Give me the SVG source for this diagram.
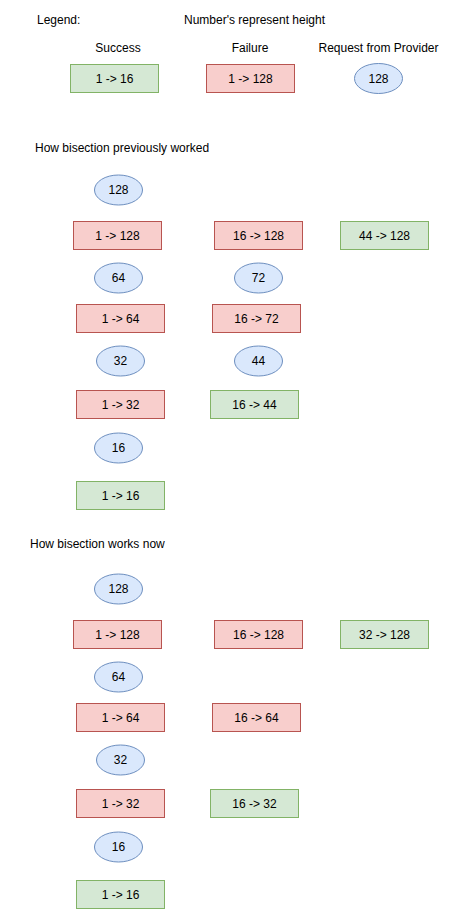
<svg xmlns="http://www.w3.org/2000/svg" width="454" height="919" viewBox="0 0 454 919">
<style>
text{font-family:"Liberation Sans",Arial,Helvetica,sans-serif;font-size:12px;fill:#000}
.c{text-anchor:middle}
.ok{fill:#d5e8d4;stroke:#82b366;stroke-width:1}
.ko{fill:#f8cecc;stroke:#b85450;stroke-width:1}
.rq{fill:#dae8fc;stroke:#6c8ebf;stroke-width:1}
</style>
<rect width="454" height="919" fill="#fff"/>
<g id="labels">
<text x="37" y="24">Legend:</text>
<text x="254.5" y="24" class="c">Number's represent height</text>
<text x="118" y="52" class="c">Success</text>
<text x="250" y="52" class="c">Failure</text>
<text x="378.5" y="52" class="c">Request from Provider</text>
<text x="35" y="152">How bisection previously worked</text>
<text x="30" y="548">How bisection works now</text>
</g>
<g id="connectors"></g>
<!-- legend -->
<g id="legend-success"><rect class="ok" x="70.5" y="64.5" width="88" height="28"/><text x="114.5" y="82.5" class="c">1 -&gt; 16</text></g>
<g id="legend-failure"><rect class="ko" x="206.5" y="64.5" width="88" height="28"/><text x="250.5" y="82.5" class="c">1 -&gt; 128</text></g>
<g id="legend-request"><ellipse class="rq" cx="378.5" cy="78.5" rx="24" ry="15"/><text x="378.5" y="82.5" class="c">128</text></g>
<!-- previously -->
<g id="p-req128"><ellipse class="rq" cx="118.5" cy="190" rx="24" ry="15"/><text x="118.5" y="194" class="c">128</text></g>
<g id="p-f1-128"><rect class="ko" x="73.5" y="221.5" width="88" height="28"/><text x="117.5" y="239.5" class="c">1 -&gt; 128</text></g>
<g id="p-f16-128"><rect class="ko" x="214.5" y="221.5" width="88" height="28"/><text x="258.5" y="239.5" class="c">16 -&gt; 128</text></g>
<g id="p-s44-128"><rect class="ok" x="340.5" y="221.5" width="88" height="28"/><text x="384.5" y="239.5" class="c">44 -&gt; 128</text></g>
<g id="p-req64"><ellipse class="rq" cx="118.5" cy="278" rx="24" ry="15"/><text x="118.5" y="282" class="c">64</text></g>
<g id="p-req72"><ellipse class="rq" cx="258.5" cy="278" rx="24" ry="15"/><text x="258.5" y="282" class="c">72</text></g>
<g id="p-f1-64"><rect class="ko" x="76.5" y="304.5" width="88" height="28"/><text x="120.5" y="322.5" class="c">1 -&gt; 64</text></g>
<g id="p-f16-72"><rect class="ko" x="212.5" y="304.5" width="88" height="28"/><text x="256.5" y="322.5" class="c">16 -&gt; 72</text></g>
<g id="p-req32"><ellipse class="rq" cx="120.5" cy="361" rx="24" ry="15"/><text x="120.5" y="365" class="c">32</text></g>
<g id="p-req44"><ellipse class="rq" cx="258.5" cy="361" rx="24" ry="15"/><text x="258.5" y="365" class="c">44</text></g>
<g id="p-f1-32"><rect class="ko" x="76.5" y="390.5" width="88" height="28"/><text x="120.5" y="408.5" class="c">1 -&gt; 32</text></g>
<g id="p-s16-44"><rect class="ok" x="210.5" y="390.5" width="88" height="28"/><text x="254.5" y="408.5" class="c">16 -&gt; 44</text></g>
<g id="p-req16"><ellipse class="rq" cx="118.5" cy="448" rx="24" ry="15"/><text x="118.5" y="452" class="c">16</text></g>
<g id="p-s1-16"><rect class="ok" x="76.5" y="481.5" width="88" height="28"/><text x="120.5" y="499.5" class="c">1 -&gt; 16</text></g>
<!-- now -->
<g id="n-req128"><ellipse class="rq" cx="118.5" cy="589" rx="24" ry="15"/><text x="118.5" y="593" class="c">128</text></g>
<g id="n-f1-128"><rect class="ko" x="73.5" y="620.5" width="88" height="28"/><text x="117.5" y="638.5" class="c">1 -&gt; 128</text></g>
<g id="n-f16-128"><rect class="ko" x="214.5" y="620.5" width="88" height="28"/><text x="258.5" y="638.5" class="c">16 -&gt; 128</text></g>
<g id="n-s32-128"><rect class="ok" x="340.5" y="620.5" width="88" height="28"/><text x="384.5" y="638.5" class="c">32 -&gt; 128</text></g>
<g id="n-req64"><ellipse class="rq" cx="118.5" cy="677" rx="24" ry="15"/><text x="118.5" y="681" class="c">64</text></g>
<g id="n-f1-64"><rect class="ko" x="76.5" y="703.5" width="88" height="28"/><text x="120.5" y="721.5" class="c">1 -&gt; 64</text></g>
<g id="n-f16-64"><rect class="ko" x="212.5" y="703.5" width="88" height="28"/><text x="256.5" y="721.5" class="c">16 -&gt; 64</text></g>
<g id="n-req32"><ellipse class="rq" cx="120.5" cy="760" rx="24" ry="15"/><text x="120.5" y="764" class="c">32</text></g>
<g id="n-f1-32"><rect class="ko" x="76.5" y="789.5" width="88" height="28"/><text x="120.5" y="807.5" class="c">1 -&gt; 32</text></g>
<g id="n-s16-32"><rect class="ok" x="210.5" y="789.5" width="88" height="28"/><text x="254.5" y="807.5" class="c">16 -&gt; 32</text></g>
<g id="n-req16"><ellipse class="rq" cx="118.5" cy="847" rx="24" ry="15"/><text x="118.5" y="851" class="c">16</text></g>
<g id="n-s1-16"><rect class="ok" x="76.5" y="880.5" width="88" height="28"/><text x="120.5" y="898.5" class="c">1 -&gt; 16</text></g>
</svg>
